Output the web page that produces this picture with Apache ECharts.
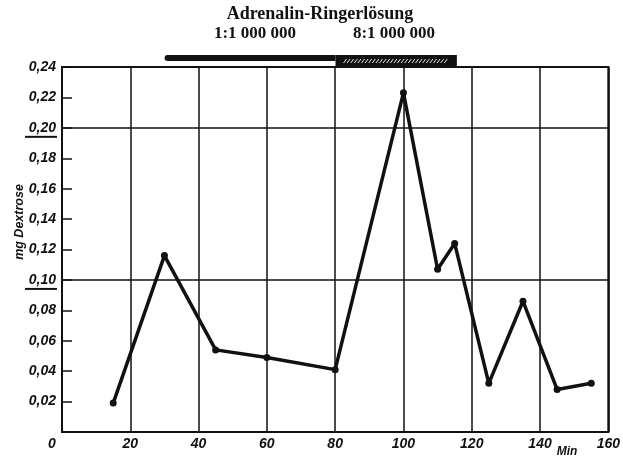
<!DOCTYPE html>
<html>
<head>
<meta charset="utf-8">
<script src="https://cdn.jsdelivr.net/npm/echarts@6/dist/echarts.min.js"></script>
<style>
html,body{margin:0;padding:0;background:#fff;}
#c{width:623px;height:459px;}
</style>
</head>
<body>
<div id="c"></div>
<script>
// ---- data ----
const minutes = [15, 30, 45, 60, 80, 100, 110, 115, 125, 135, 145, 155];
const dextrose = [0.019, 0.116, 0.054, 0.049, 0.041, 0.223, 0.107, 0.124, 0.032, 0.086, 0.028, 0.032];
const underlinedTicks = [0.20, 0.10];
const fullLines = [0.10, 0.20];
const infusionFrom = [30, 80];
const infusionTo = [80, 115.5];
const infusionKind = [0, 1];          // 0 = thin solid, 1 = thick hatched
const infusionLabels = ['1:1 000 000', '8:1 000 000'];
const titleText = 'Adrenalin-Ringerlösung';
const yName = 'mg Dextrose';
const xName = 'Min';

const chart = echarts.init(document.getElementById('c'), null, {renderer: 'canvas'});

const lblFont = {fontFamily: 'Liberation Sans', fontStyle: 'italic', fontWeight: 'bold', fontSize: 14, color: '#111'};
const serif = {fontFamily: 'Liberation Serif', fontWeight: 'bold', fill: '#111'};

const seriesData = minutes.map((m, i) => [m, dextrose[i]]);
const barData = infusionFrom.map((f, i) => [f, infusionTo[i], infusionKind[i]]);

const option = {
  backgroundColor: '#fff',
  animation: false,
  grid: [
    {left: 62, right: 14, top: 67, bottom: 27, show: true, borderColor: '#111', borderWidth: 2, backgroundColor: 'transparent'},
    {left: 62, right: 14, top: 55, height: 12, show: false}
  ],
  xAxis: [
    {
      type: 'value', min: 0, max: 160, interval: 20, gridIndex: 0,
      axisLine: {show: true, lineStyle: {color: '#111', width: 2}},
      axisTick: {show: false},
      splitLine: {show: true, lineStyle: {color: '#111', width: 1.5}},
      axisLabel: Object.assign({}, lblFont, {
        margin: 5,
        formatter: v => v === 0 ? '{z|0}' : String(v),
        rich: {z: Object.assign({}, lblFont, {padding: [0, 20, 0, 0]})}
      })
    },
    {type: 'value', min: 0, max: 160, gridIndex: 1, show: false}
  ],
  yAxis: [
    {
      type: 'value', min: 0, max: 0.24, interval: 0.02, gridIndex: 0,
      axisLine: {show: true, lineStyle: {color: '#111', width: 2}},
      axisTick: {show: true, inside: true, length: 10, lineStyle: {color: '#111', width: 1.5}},
      splitLine: {show: false},
      axisLabel: Object.assign({}, lblFont, {
        margin: 6,
        formatter: v => v === 0 ? '' : v.toFixed(2).replace('.', ',')
      })
    },
    {type: 'value', min: 0, max: 1, gridIndex: 1, show: false}
  ],
  series: [
    {
      type: 'line',
      xAxisIndex: 0, yAxisIndex: 0,
      data: seriesData,
      symbol: 'circle', symbolSize: 7,
      itemStyle: {color: '#111'},
      lineStyle: {color: '#111', width: 3.5},
      z: 5,
      markLine: {
        silent: true, symbol: 'none', label: {show: false},
        lineStyle: {color: '#111', width: 1.5, type: 'solid'},
        data: fullLines.map(v => ({yAxis: v}))
      }
    },
    {
      type: 'custom',
      xAxisIndex: 1, yAxisIndex: 1,
      data: barData,
      renderItem: function (params, api) {
        const s = api.coord([api.value(0), 1]);
        const e = api.coord([api.value(1), 0]);
        const kind = api.value(2);
        const w = e[0] - s[0];
        const hFull = e[1] - s[1];
        if (kind === 0) {
          const h = hFull * 0.5;
          return {type: 'rect', shape: {x: s[0], y: s[1], width: w, height: h, r: [h / 2, 0, 0, h / 2]}, style: {fill: '#111'}};
        }
        const children = [{type: 'rect', shape: {x: s[0], y: s[1], width: w, height: hFull}, style: {fill: '#111'}}];
        const top = s[1] + 4, bot = s[1] + hFull - 4;
        for (let x = s[0] + 8; x < e[0] - 10; x += 3.6) {
          children.push({type: 'line', shape: {x1: x, y1: bot, x2: x + 3, y2: top}, style: {stroke: '#fff', lineWidth: 0.9}});
        }
        return {type: 'group', children: children};
      }
    }
  ],
  graphic: [
    {type: 'text', x: 320, y: 14, style: Object.assign({}, serif, {text: titleText, align: 'center', verticalAlign: 'middle', fontSize: 18})},
    {type: 'text', x: 255, y: 34, style: Object.assign({}, serif, {text: infusionLabels[0], align: 'center', verticalAlign: 'middle', fontSize: 17})},
    {type: 'text', x: 394, y: 34, style: Object.assign({}, serif, {text: infusionLabels[1], align: 'center', verticalAlign: 'middle', fontSize: 17})},
    {type: 'text', x: 20, y: 222, rotation: Math.PI / 2,
     style: {text: yName, fontFamily: 'Liberation Sans', fontStyle: 'italic', fontWeight: 'bold', fontSize: 12.5, fill: '#111', align: 'center', verticalAlign: 'middle'}},
    {type: 'text', x: 567, y: 452,
     style: {text: xName, fontFamily: 'Liberation Sans', fontStyle: 'italic', fontWeight: 'bold', fontSize: 12, fill: '#111', align: 'center', verticalAlign: 'middle'}}
  ]
};

chart.setOption(option);

// underline the 0,20 and 0,10 tick labels
const extra = underlinedTicks.map(v => {
  const py = chart.convertToPixel({yAxisIndex: 0}, v);
  return {type: 'line', shape: {x1: 25, y1: py + 9, x2: 57, y2: py + 9}, style: {stroke: '#111', lineWidth: 2}};
});
chart.setOption({graphic: option.graphic.concat(extra)});
</script>
</body>
</html>
